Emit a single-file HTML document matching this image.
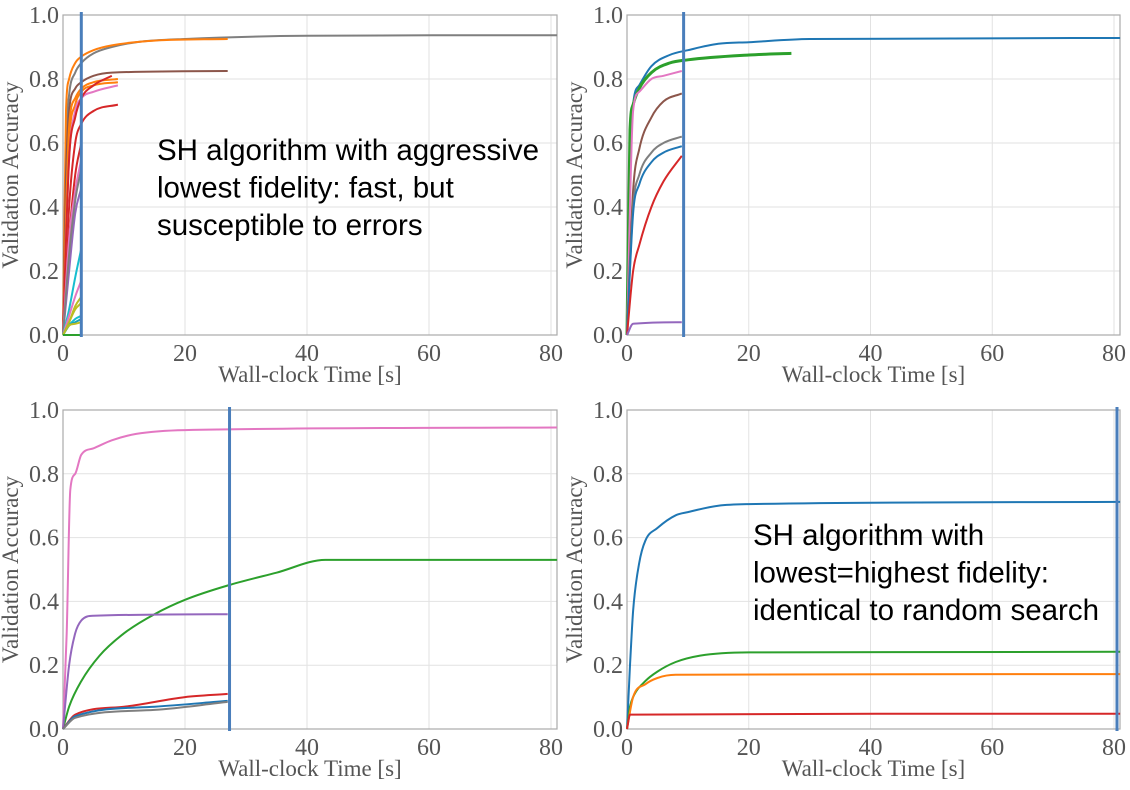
<!DOCTYPE html>
<html><head><meta charset="utf-8"><style>
html,body{margin:0;padding:0;background:#fff;}
svg{display:block;}
.tick{font-family:"Liberation Serif",serif;font-size:24px;fill:#555;}
.axl{font-family:"Liberation Serif",serif;font-size:23px;fill:#555;}
.ann{font-family:"Liberation Sans",sans-serif;font-size:29.5px;fill:#000;}
</style></head><body>
<svg id="chart" width="1130" height="790" viewBox="0 0 1130 790"></svg>
<script>
// ---- data ----
const xTicks = [0, 20, 40, 60, 80];
const yTicks = [0.0, 0.2, 0.4, 0.6, 0.8, 1.0];
const panelNames = ['aggressive-fidelity','medium-fidelity','low-budget-fidelity','random-search'];
const markerTimes = [3, 9.3, 27.3, 80.8];

const p0Colors = ['#7f7f7f','#ff7f0e','#8c564b','#d62728','#ff7f0e','#ff7f0e','#e377c2','#d62728','#d62728','#e377c2','#9467bd','#7f7f7f','#17becf','#e377c2','#bcbd22','#bcbd22','#17becf','#17a2b8','#bcbd22','#2ca02c'];
const p0Times = [
 [0,0.5,1,2,3,5,8,12,20,40,81],
 [0,0.5,1,2,3,5,8,15,27],
 [0,0.5,1,2,3,5,8,27],
 [0,1,2,3,5,9],
 [0,1,2,3,5,9],
 [0,1,2,3,5,9],
 [0,1,2,3,5,9],
 [0,1,2,3,5,8],
 [0,1,2,3],
 [0,1,2,3],
 [0,1,2,3],
 [0,1,2,3],
 [0,1,2,3],
 [0,1,2,3],
 [0,1,2,3],
 [0,1,2,3],
 [0,1,2,3],
 [0,1,2,3],
 [0,1,2,3],
 [0,1,3]
];
const p0Values = [
 [0,0.6,0.75,0.82,0.85,0.88,0.9,0.915,0.925,0.935,0.937],
 [0,0.7,0.8,0.85,0.87,0.89,0.905,0.92,0.925],
 [0,0.5,0.7,0.77,0.79,0.81,0.82,0.825],
 [0,0.4,0.6,0.66,0.7,0.72],
 [0,0.6,0.72,0.76,0.78,0.79],
 [0,0.65,0.74,0.77,0.79,0.80],
 [0,0.55,0.7,0.74,0.76,0.78],
 [0,0.55,0.68,0.74,0.78,0.81],
 [0,0.3,0.5,0.6],
 [0,0.3,0.45,0.55],
 [0,0.2,0.38,0.46],
 [0,0.25,0.42,0.52],
 [0,0.08,0.18,0.27],
 [0,0.06,0.12,0.17],
 [0,0.04,0.09,0.12],
 [0,0.04,0.08,0.1],
 [0,0.03,0.05,0.06],
 [0,0.03,0.04,0.05],
 [0,0.03,0.035,0.04],
 [0,0,0]
];
const p1Colors = ['#1f77b4','#2ca02c','#e377c2','#8c564b','#7f7f7f','#1f77b4','#d62728','#9467bd'];
const p1Times = [
 [0,0.5,1,2,4,7,10,15,20,30,81],
 [0,0.5,1,2,4,7,10,20,27],
 [0,1,2,4,6,9],[0,1,2,4,6,9],[0,1,2,4,6,9],[0,1,2,4,6,9],[0,1,2,4,6,9],[0,1,9]
];
const p1Values = [
 [0,0.5,0.72,0.78,0.84,0.875,0.89,0.91,0.915,0.925,0.928],
 [0,0.64,0.72,0.77,0.82,0.85,0.86,0.875,0.88],
 [0,0.7,0.76,0.8,0.81,0.825],
 [0,0.45,0.58,0.68,0.73,0.755],
 [0,0.4,0.5,0.57,0.6,0.62],
 [0,0.38,0.47,0.54,0.57,0.59],
 [0,0.2,0.28,0.4,0.48,0.56],
 [0,0.035,0.04]
];
const p2Colors = ['#e377c2','#2ca02c','#9467bd','#d62728','#1f77b4','#7f7f7f'];
const p2Times = [
 [0,0.6,1.2,2,3,5,8,12,20,81],
 [0,1,3,6,10,15,20,27,35,43,81],
 [0,1,2,3,5,27],
 [0,2,10,20,27],
 [0,2,15,27],
 [0,2,15,27]
];
const p2Values = [
 [0,0.3,0.75,0.8,0.86,0.88,0.905,0.925,0.937,0.945],
 [0,0.07,0.15,0.23,0.3,0.36,0.405,0.45,0.49,0.53,0.53],
 [0,0.2,0.3,0.34,0.355,0.36],
 [0,0.045,0.07,0.1,0.11],
 [0,0.04,0.07,0.088],
 [0,0.035,0.06,0.085]
];
const p3Colors = ['#1f77b4','#2ca02c','#ff7f0e','#d62728'];
const p3Times = [
 [0,0.5,1,2,3,5,8,10,15,20,81],
 [0,0.5,1,3,5,8,12,20,81],
 [0,1,3,5,8,81],
 [0,0.5,81]
];
const p3Values = [
 [0,0.2,0.37,0.52,0.59,0.63,0.67,0.68,0.7,0.705,0.712],
 [0,0.07,0.1,0.15,0.18,0.21,0.23,0.24,0.242],
 [0,0.1,0.14,0.16,0.17,0.172],
 [0,0.045,0.048]
];
const allColors=[p0Colors,p1Colors,p2Colors,p3Colors];
const allTimes=[p0Times,p1Times,p2Times,p3Times];
const allValues=[p0Values,p1Values,p2Values,p3Values];

// ---- layout ----
const NS='http://www.w3.org/2000/svg';
const svg=document.getElementById('chart');
const panels=[{l:63,r:557,t:15,b:335},{l:627,r:1120,t:15,b:335},{l:63,r:557,t:410,b:729},{l:627,r:1120,t:410,b:729}];
function mk(tag,attrs,parent){const e=document.createElementNS(NS,tag);for(const k in attrs)e.setAttribute(k,attrs[k]);(parent||svg).appendChild(e);return e;}

// monotone cubic (Fritsch-Carlson) path
function monoPath(X,Y){
  const n=X.length;
  if(n<2)return '';
  const d=[],m=new Array(n);
  for(let i=0;i<n-1;i++){const h=X[i+1]-X[i];d.push(h===0?0:(Y[i+1]-Y[i])/h);}
  m[0]=d[0];m[n-1]=d[n-2];
  for(let i=1;i<n-1;i++){m[i]=(d[i-1]*d[i]<=0)?0:(d[i-1]+d[i])/2;}
  for(let i=0;i<n-1;i++){
    if(d[i]===0){m[i]=0;m[i+1]=0;continue;}
    const a=m[i]/d[i],b=m[i+1]/d[i],s=a*a+b*b;
    if(s>9){const t=3/Math.sqrt(s);m[i]=t*a*d[i];m[i+1]=t*b*d[i];}
  }
  let p='M'+X[0].toFixed(1)+','+Y[0].toFixed(1);
  for(let i=0;i<n-1;i++){
    const h=(X[i+1]-X[i])/3;
    p+=' C'+(X[i]+h).toFixed(1)+','+(Y[i]+m[i]*h).toFixed(1)+' '+(X[i+1]-h).toFixed(1)+','+(Y[i+1]-m[i+1]*h).toFixed(1)+' '+X[i+1].toFixed(1)+','+Y[i+1].toFixed(1);
  }
  return p;
}

panels.forEach((p,i)=>{
  const xs=v=>p.l+v*6.1*((p.r-p.l)/494);
  const ys=v=>p.b-v*(p.b-p.t);
  const g=mk('g',{});
  
  
  xTicks.forEach(t=>{
    const x=xs(t);
    const gl=mk('line',{x1:x,x2:x,y1:p.t,y2:p.b,stroke:'#e2e2e2','stroke-width':1},g);
    
    
    const tl=mk('text',{x:x,y:p.b+26,'text-anchor':'middle',class:'tick'},g);
    tl.textContent=t;
    
    
  });
  yTicks.forEach(t=>{
    const y=ys(t);
    const gl=mk('line',{x1:p.l,x2:p.r,y1:y,y2:y,stroke:'#e2e2e2','stroke-width':1},g);
    
    
    const tl=mk('text',{x:p.l-4,y:y+8,'text-anchor':'end',class:'tick'},g);
    tl.textContent=t.toFixed(1);
    
    
  });
  const fr=mk('rect',{x:p.l,y:p.t,width:p.r-p.l,height:p.b-p.t,fill:'none',stroke:'#aaa','stroke-width':1.2},g);
  
  
  allTimes[i].forEach((ts,j)=>{
    const vs=allValues[i][j];
    const X=ts.map(xs),Y=vs.map(ys);
    const pl=mk('path',{d:monoPath(X,Y),fill:'none',stroke:allColors[i][j],'stroke-width':(i===1&&j===1)?3:2,'stroke-linejoin':'round'},g);
    
    
  });
  const mx=xs(markerTimes[i]);
  const ml=mk('line',{x1:Math.min(mx,p.r-3),x2:Math.min(mx,p.r-3),y1:p.t-3,y2:p.b+2,stroke:'#4a7ebb','stroke-width':3},g);
  
  
  const xl=mk('text',{x:(p.l+p.r)/2,y:p.b+47,'text-anchor':'middle',class:'axl'},g);
  xl.textContent='Wall-clock Time [s]';
  
  
  const cy=(p.t+p.b)/2, cx=p.l-45;
  const yl=mk('text',{x:cx,y:cy,'text-anchor':'middle',class:'axl',transform:'rotate(-90 '+cx+' '+cy+')'},g);
  yl.textContent='Validation Accuracy';
  
  
});

function ann(lines,x,y0,name){
  const t=mk('text',{x:x,y:y0,class:'ann'});
  
  
  lines.forEach((s,k)=>{const ts=mk('tspan',{x:x,y:y0+k*37.5},t);ts.textContent=s;});
}
ann(['SH algorithm with aggressive','lowest fidelity: fast, but','susceptible to errors'],157,160,'annotation-aggressive');
ann(['SH algorithm with','lowest=highest fidelity:','identical to random search'],753,545,'annotation-random-search');
</script>
</body></html>
